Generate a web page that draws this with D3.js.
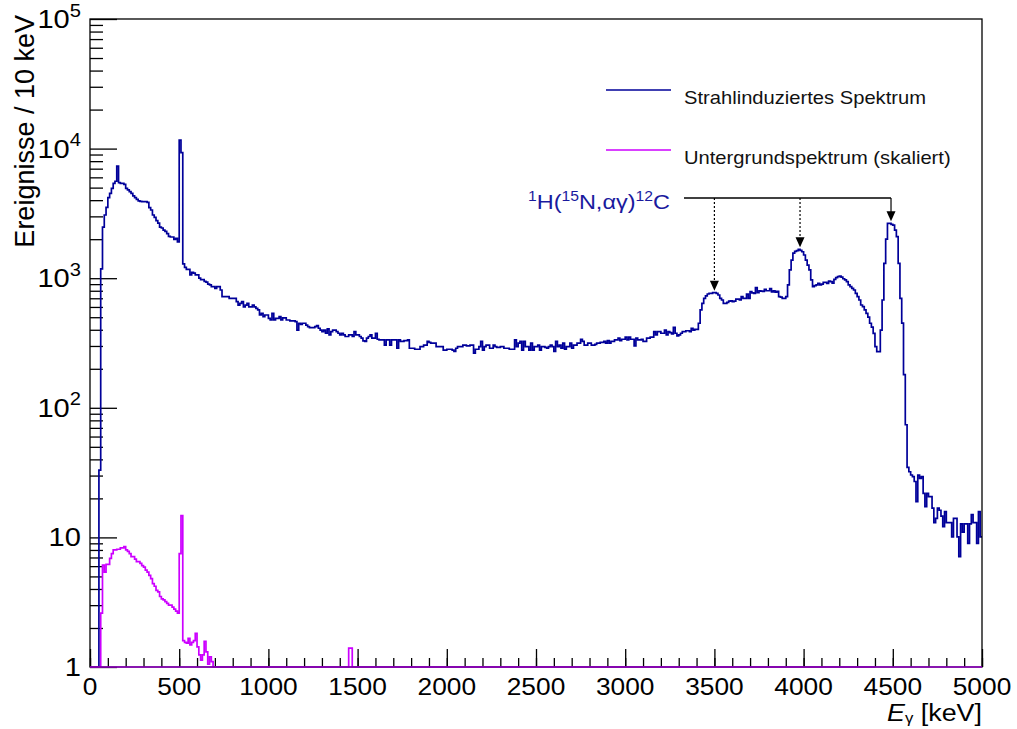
<!DOCTYPE html>
<html><head><meta charset="utf-8">
<script src="https://cdn.jsdelivr.net/npm/d3@7"></script>
<style>
body{margin:0;background:#fff}
svg{font-family:"Liberation Sans",Arial,Helvetica,sans-serif;display:block}
</style>
</head><body>
<svg id="c" width="1017" height="729"></svg>
<script>
// ---------- data ----------
const binWidth = 10; // keV per bin
// beam-induced spectrum, counts per 10 keV bin, bins starting at 0 keV
const beamSpectrum = [
0,0,0,0,0,33,1180,2480,3075,3525,
4180,4520,4940,5400,5600,7340,5460,5400,5400,5300,
4940,4800,4650,4520,4320,4180,4050,3950,3920,3900,
3900,3900,3850,3500,3360,3075,2950,2780,2660,2480,
2440,2350,2300,2210,2100,2080,2080,1990,2030,1910,
11650,9300,1290,1210,1170,1170,1060,1110,1095,1060,
1060,1000,975,975,945,933,900,888,862,862,
835,862,862,811,720,720,720,720,700,700,
700,700,660,620,640,660,600,620,640,600,
600,620,600,585,569,520,535,505,520,520,
490,476,535,476,490,490,505,476,495,495,
476,476,468,468,468,462,398,449,441,449,
449,435,423,416,416,416,423,430,411,398,
387,398,376,406,365,387,398,398,387,376,
365,376,365,355,355,365,365,355,387,365,
365,355,345,328,325,345,355,365,345,345,
376,338,334,334,334,305,334,334,305,334,
334,334,288,334,325,325,330,330,334,288,
288,288,283,283,283,297,297,305,305,325,
320,316,316,316,297,297,297,297,279,279,
283,283,283,279,272,288,297,297,297,305,
305,300,300,305,305,264,283,283,297,325,
279,297,305,305,288,288,305,297,293,293,
297,297,288,288,288,283,283,283,334,297,
316,325,279,325,297,297,279,316,279,297,
297,305,279,297,297,293,288,297,305,297,
272,325,297,305,288,316,283,297,297,316,
288,305,305,316,316,338,325,305,305,316,
316,305,305,309,316,316,320,320,325,316,
330,316,325,325,334,334,345,330,338,338,
351,334,351,338,338,300,345,334,334,338,
325,325,345,345,351,351,387,365,387,387,
376,376,398,365,387,380,372,417,376,358,
365,376,387,387,393,393,387,410,398,403,
403,449,569,640,699,730,755,764,764,773,
773,764,742,699,679,640,640,650,665,670,
660,665,690,690,680,720,700,700,755,700,
787,770,764,845,775,800,795,790,820,800,
800,830,785,800,780,790,720,715,700,700,
720,887,1160,1380,1560,1610,1630,1670,1640,1600,
1510,1380,1260,1160,969,861,875,887,914,887,
900,930,930,910,950,940,914,980,1010,1030,
1040,1020,990,969,940,887,860,836,811,764,
720,679,621,603,569,536,500,449,420,375,
296,271,271,398,679,1300,2000,2650,2650,2600,
2570,2350,2090,1300,700,450,180,74,34.7,32.1,
30.3,29.4,27.0,18.9,30.3,28.5,29.4,21.9,17.3,21.9,
20.6,20.6,16.8,13.0,14.0,16.8,16.2,14.6,12.1,15.8,
13.0,13.0,13.0,10.1,14.0,14.0,10.1,7.1,12.7,11.0,
12.7,12.7,9.0,12.7,15.0,13.0,13.0,9.0,15.8,10.1
];
// scaled background spectrum, counts per 10 keV bin
const backgroundSpectrum = [
0,0,0,0,0,0,2.6,6.1,5.4,6.2,
6.2,6.9,7.5,8.0,8.0,8.1,8.1,8.3,8.3,8.5,
8.0,7.8,7.5,7.1,7.1,6.8,6.5,6.5,6.3,6.05,
5.9,5.6,5.4,5.1,4.8,4.4,4.2,3.9,3.8,3.5,
3.35,3.3,3.2,3.1,3.0,3.0,2.9,2.8,2.7,2.6,
7.5,14.7,1.6,1.55,1.53,1.66,1.48,1.55,1.6,1.82,
1.43,1.24,1.13,1.24,1.58,1.31,1.05,1.2,1.1,0,
0,0,0,0,0,0,0,0,0,0, 0,0,0,0,0,0,0,0,0,0,
0,0,0,0,0,0,0,0,0,0, 0,0,0,0,0,0,0,0,0,0,
0,0,0,0,0,0,0,0,0,0, 0,0,0,0,0,0,0,0,0,0,
0,0,0,0,0,0,0,0,0,0, 0,0,0,0,0,1.4,1.4,0,0,0,
0,0,0,0,0,0,0,0,0,0, 0,0,0,0,0,0,0,0,0,0,
0,0,0,0,0,0,0,0,0,0, 0,0,0,0,0,0,0,0,0,0,
0,0,0,0,0,0,0,0,0,0, 0,0,0,0,0,0,0,0,0,0,
0,0,0,0,0,0,0,0,0,0, 0,0,0,0,0,0,0,0,0,0,
0,0,0,0,0,0,0,0,0,0, 0,0,0,0,0,0,0,0,0,0,
0,0,0,0,0,0,0,0,0,0, 0,0,0,0,0,0,0,0,0,0,
0,0,0,0,0,0,0,0,0,0, 0,0,0,0,0,0,0,0,0,0,
0,0,0,0,0,0,0,0,0,0, 0,0,0,0,0,0,0,0,0,0,
0,0,0,0,0,0,0,0,0,0, 0,0,0,0,0,0,0,0,0,0,
0,0,0,0,0,0,0,0,0,0, 0,0,0,0,0,0,0,0,0,0,
0,0,0,0,0,0,0,0,0,0, 0,0,0,0,0,0,0,0,0,0,
0,0,0,0,0,0,0,0,0,0, 0,0,0,0,0,0,0,0,0,0,
0,0,0,0,0,0,0,0,0,0, 0,0,0,0,0,0,0,0,0,0,
0,0,0,0,0,0,0,0,0,0, 0,0,0,0,0,0,0,0,0,0,
0,0,0,0,0,0,0,0,0,0
];
const xTickValues = [0,500,1000,1500,2000,2500,3000,3500,4000,4500,5000];
const xTickLabels = ["0","500","1000","1500","2000","2500","3000","3500","4000","4500","5000"];
const yDecades = [1,10,100,1000,10000,100000];
const yDecadeBase = ["1","10","10","10","10","10"];
const yDecadeExp = ["","","2","3","4","5"];
const peakEnergies = [3500,3980,4490];
const legendLabels = ["Strahlinduziertes Spektrum","Untergrundspektrum (skaliert)"];
const seriesColors = ["#000099","#cc00ff"];

// ---------- layout ----------
const L = 90, R = 982, T = 19, B = 667;
const SX = 1.12; // horizontal text stretch of the original
const svg = d3.select("#c");
const x = d3.scaleLinear().domain([0,5000]).range([L,R]);
const y = d3.scaleLog().domain([1,1e5]).range([B,T]);
const yv = v => y(Math.max(v,1));

function txt(parent, px, py, anchor, size, rot) {
  const g = parent.append("g").attr("transform",
    `translate(${px},${py})` + (rot ? ` rotate(${rot})` : ` scale(${SX},1)`));
  return g.append("text").attr("text-anchor", anchor).attr("font-size", size);
}

// histogram step path
function stepPoints(arr){
  const pts = [];
  arr.forEach((v,i)=>{ const e0=i*binWidth, e1=(i+1)*binWidth; pts.push([x(e0),yv(v)],[x(e1),yv(v)]); });
  return pts;
}
const line = d3.line();
svg.append("clipPath").attr("id","pc").append("rect")
  .attr("x",L).attr("y",T-1).attr("width",R-L).attr("height",B-T+2);

// axes ticks
const xAxisMinor = d3.axisBottom(x).tickValues(d3.range(0,5001,100)).tickSize(-9).tickFormat("");
const xAxisMajor = d3.axisBottom(x).tickValues(xTickValues).tickSize(-18).tickFormat("");
[xAxisMinor,xAxisMajor].forEach(a=>{
  const g = svg.append("g").attr("transform",`translate(0,${B})`).call(a);
  g.select(".domain").remove();
  g.selectAll("line").attr("stroke","#000").attr("stroke-width",1.3);
});
const yMinorVals = [];
yDecades.slice(0,-1).forEach(d=>{ for(let k=2;k<=9;k++) yMinorVals.push(d*k); });
const yAxisMinor = d3.axisLeft(y).tickValues(yMinorVals).tickSize(-13).tickFormat("");
const yAxisMajor = d3.axisLeft(y).tickValues(yDecades).tickSize(-27).tickFormat("");
[yAxisMinor,yAxisMajor].forEach(a=>{
  const g = svg.append("g").attr("transform",`translate(${L},0)`).call(a);
  g.select(".domain").remove();
  g.selectAll("line").attr("stroke","#000").attr("stroke-width",1.3);
});

// spectra
const plot = svg.append("g").attr("clip-path","url(#pc)");
plot.append("path").attr("d",line(stepPoints(beamSpectrum)))
  .attr("fill","none").attr("stroke",seriesColors[0]).attr("stroke-width",1.7);
plot.append("path").attr("d",line(stepPoints(backgroundSpectrum)))
  .attr("fill","none").attr("stroke",seriesColors[1]).attr("stroke-width",1.7);

// frame
svg.append("rect").attr("x",L).attr("y",T).attr("width",R-L).attr("height",B-T)
  .attr("fill","none").attr("stroke","#000").attr("stroke-width",1.3);
svg.append("line").attr("x1",L).attr("x2",R).attr("y1",B).attr("y2",B)
  .attr("stroke","#9900cc").attr("stroke-width",1.6);

// x tick labels
xTickValues.forEach((v,i)=>{
  txt(svg, x(v), B+28, "middle", 23.5).text(xTickLabels[i]);
});
// y tick labels
yDecades.forEach((v,i)=>{
  const t = txt(svg, 81, y(v)+9, "end", 26);
  t.append("tspan").text(yDecadeBase[i]);
  if (yDecadeExp[i]) t.append("tspan").attr("font-size",18).attr("baseline-shift","62%").text(yDecadeExp[i]);
});
// axis titles
txt(svg, 34, 15, "end", 27, -90).text("Ereignisse / 10 keV");
{
  const t = txt(svg, R, 721, "end", 24);
  t.append("tspan").attr("font-style","italic").text("E");
  t.append("tspan").attr("font-size",15).attr("baseline-shift","-15%").text("γ");
  t.append("tspan").text(" [keV]");
}

// legend
legendLabels.forEach((lab,i)=>{
  const ly = 90 + i*60;
  svg.append("line").attr("x1",606).attr("x2",671).attr("y1",ly).attr("y2",ly)
    .attr("stroke",seriesColors[i]).attr("stroke-width",1.7);
  txt(svg, 684, ly+13.5, "start", 18).attr("fill","#111").text(lab);
});

// reaction annotation
const barY = 198;
const tips = peakEnergies.map(e=>{
  const i0 = Math.round((e-30)/binWidth), i1 = Math.round((e+30)/binWidth);
  return yv(d3.max(beamSpectrum.slice(i0,i1+1))) - 2;
});
svg.append("line").attr("x1",684).attr("x2",x(peakEnergies[2])).attr("y1",barY).attr("y2",barY)
  .attr("stroke","#000").attr("stroke-width",1.3);
peakEnergies.forEach((e,i)=>{
  const px = x(e), tip = tips[i];
  svg.append("line").attr("x1",px).attr("x2",px).attr("y1",barY).attr("y2",tip-8)
    .attr("stroke","#000").attr("stroke-width",1.2)
    .attr("stroke-dasharray", i<2 ? "2,2" : null);
  svg.append("path").attr("d",`M${px-4.5},${tip-10}L${px+4.5},${tip-10}L${px},${tip}Z`).attr("fill","#000");
});
{
  const t = txt(svg, 670, 209, "end", 21).attr("fill","#1a1a9e");
  t.append("tspan").attr("font-size",14).attr("baseline-shift","55%").text("1");
  t.append("tspan").text("H(");
  t.append("tspan").attr("font-size",14).attr("baseline-shift","55%").text("15");
  t.append("tspan").text("N,αγ)");
  t.append("tspan").attr("font-size",14).attr("baseline-shift","55%").text("12");
  t.append("tspan").text("C");
}
</script>
</body></html>
